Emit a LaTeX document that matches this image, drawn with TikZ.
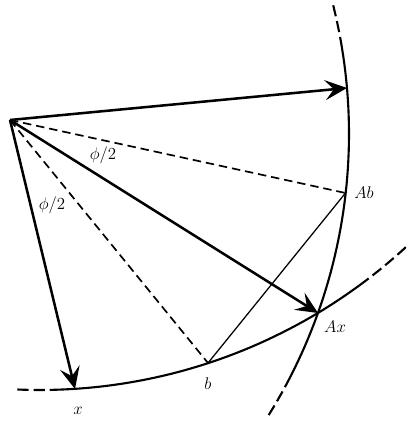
\documentclass[tikz,border=0pt]{standalone}
\usetikzlibrary{arrows.meta}
\begin{document}
\begin{tikzpicture}[x=0.025cm, y=-0.025cm]
% Define styles
\tikzstyle{vec} = [draw, line width=1.8pt, -{Stealth[length=5.5mm, width=5mm, inset=2.2mm]}]
\tikzstyle{ray} = [draw, line width=1.2pt, dash pattern=on 6pt off 3.5pt]
\tikzstyle{thin} = [draw, line width=0.9pt]
\tikzstyle{curve} = [draw, line width=1.5pt, samples=40, variable=\t]
\tikzstyle{dcurve} = [curve, dash pattern=on 8pt off 3.5pt]
\tikzstyle{lab} = [font=\large]

    \fill[white] (0,0) rectangle (413,426);
    \useasboundingbox (0,0) rectangle (413,426);
    % Place points
    \coordinate (O) at (10,120);
    \coordinate (top) at (347,88);
    \coordinate (Ab) at (345.5,193);
    \coordinate (Ax) at (318,313);
    \coordinate (b) at (208,363);
    \coordinate (x) at (75,389);
    % Right curve (centre -183,134)
    \path [dcurve] plot [domain=-14:-9.4] ({-183+532*cos(\t)}, {134+532*sin(\t)});
    \path [curve] plot [domain=-9.4:27.2] ({-183+532*cos(\t)}, {134+532*sin(\t)});
    \path [dcurve] plot [domain=27.2:32] ({-183+532*cos(\t)}, {134+532*sin(\t)});
    % Lower curve (centre 40,-150)
    \path [dcurve] plot [domain=-2.4:1.6] ({40+540*sin(\t)}, {-150+540*cos(\t)});
    \path [curve] plot [domain=1.6:36.3] ({40+540*sin(\t)}, {-150+540*cos(\t)});
    \path [dcurve] plot [domain=36.3:43] ({40+540*sin(\t)}, {-150+540*cos(\t)});
    % Draw edges
    \path [ray] (O) -- (Ab);
    \path [ray] (O) -- (b);
    \path [thin] (b) -- (Ab);
    \path [vec] (O) -- (top);
    \path [vec] (O) -- (Ax);
    \path [vec] (O) -- (x);
    % Labels
    \node [lab] (phi1) at (103,155) {$\phi/2$};
    \node [lab] (phi2) at (52,205) {$\phi/2$};
    \node [lab] (xl) at (78,411) {$x$};
    \node [lab] (bl) at (208,384) {$b$};
    \node [lab] (Abl) at (364,193) {$Ab$};
    \node [lab] (Axl) at (335,327) {$Ax$};
\end{tikzpicture}
\end{document}
